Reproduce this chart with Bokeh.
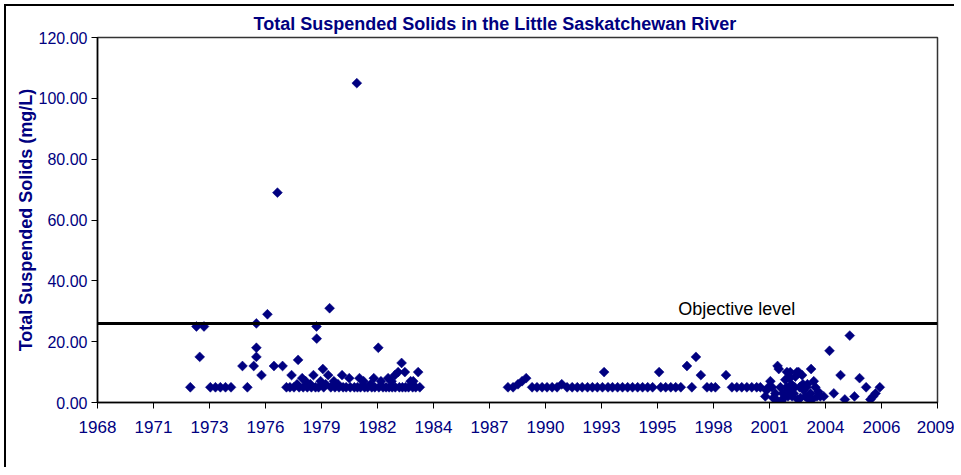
import numpy as np
import pandas as pd
from bokeh.plotting import figure
from bokeh.models import Range1d, FixedTicker, NumeralTickFormatter, Span, Label, ColumnDataSource
from bokeh.embed import file_html
from bokeh.resources import INLINE

# ---------------- data (decimal year, mg/L) ----------------
# 1972 - 1984 sampling
period1_year = [1972.98, 1973.28, 1973.44, 1973.65, 1973.96, 1974.21, 1974.45, 1974.70, 1974.97,
                1975.53, 1975.77, 1976.08, 1976.21, 1976.21, 1976.21, 1976.46, 1976.75, 1977.07,
                1977.24, 1977.49, 1977.68, 1977.85, 1977.93, 1978.05, 1978.20, 1978.25, 1978.30,
                1978.45, 1978.50, 1978.62, 1978.70, 1978.85, 1978.90, 1979.00, 1979.10, 1979.15,
                1979.16, 1979.25, 1979.35, 1979.46, 1979.50, 1979.60, 1979.72, 1979.79, 1979.85,
                1980.00, 1980.05, 1980.20, 1980.25, 1980.40, 1980.45, 1980.60, 1980.75, 1980.80,
                1981.00, 1981.12, 1981.15, 1981.25, 1981.30, 1981.45, 1981.50, 1981.65, 1981.80,
                1981.85, 1981.95, 1982.00, 1982.17, 1982.20, 1982.30, 1982.40, 1982.55, 1982.65,
                1982.70, 1982.82, 1982.85, 1982.98, 1983.00, 1983.14, 1983.20, 1983.31, 1983.35,
                1983.47, 1983.50, 1983.65, 1983.75, 1983.85, 1983.88, 1984.00, 1984.12, 1984.20]
period1_tss = [5, 25, 15, 25, 5, 5, 5, 5, 5,
               12, 5, 12, 26, 18, 15, 9, 29, 12,
               69, 12, 5, 5, 9, 5, 6, 14, 5,
               8, 5, 7, 5, 6, 5, 9, 5, 25,
               21, 5, 7, 11, 5, 6, 9, 31, 5,
               7, 5, 6, 5, 9, 5, 5, 8, 5,
               5, 105, 5, 8, 5, 7, 5, 5, 6,
               5, 8, 5, 18, 5, 7, 5, 5, 8,
               5, 7, 5, 9, 5, 10, 5, 13, 5,
               10, 5, 5, 7, 5, 7, 5, 10, 5]

# 1988 - 2001 sampling
period2_year = [1988.51, 1988.76, 1989.00, 1989.20, 1989.40, 1989.69, 1989.93, 1990.18, 1990.42,
                1990.67, 1990.91, 1991.14, 1991.40, 1991.65, 1991.90, 1992.14, 1992.40, 1992.64,
                1992.88, 1993.13, 1993.21, 1993.40, 1993.62, 1993.87, 1994.11, 1994.36, 1994.60,
                1994.85, 1995.09, 1995.34, 1995.58, 1995.90, 1995.98, 1996.22, 1996.47, 1996.71,
                1996.96, 1997.26, 1997.50, 1997.70, 1997.94, 1998.24, 1998.45, 1998.65, 1999.17,
                1999.46, 1999.70, 1999.94, 2000.19, 2000.43, 2000.67, 2000.85]
period2_tss = [5, 5, 6, 7, 8, 5, 5, 5, 5,
               5, 5, 6, 5, 5, 5, 5, 5, 5,
               5, 5, 10, 5, 5, 5, 5, 5, 5,
               5, 5, 5, 5, 10, 5, 5, 5, 5,
               5, 12, 5, 15, 9, 5, 5, 5, 9,
               5, 5, 5, 5, 5, 5, 5]

# 2001 - 2006 sampling
period3_year = [2001.09, 2001.15, 2001.24, 2001.34, 2001.42, 2001.48, 2001.58, 2001.62, 2001.69,
                2001.75, 2001.83, 2001.88, 2001.95, 2001.99, 2002.07, 2002.12, 2002.15, 2002.20,
                2002.23, 2002.28, 2002.31, 2002.36, 2002.40, 2002.48, 2002.53, 2002.56, 2002.64,
                2002.68, 2002.72, 2002.77, 2002.81, 2002.89, 2002.93, 2002.97, 2003.05, 2003.10,
                2003.15, 2003.22, 2003.30, 2003.33, 2003.38, 2003.46, 2003.54, 2003.62, 2003.69,
                2003.78, 2003.95, 2004.23, 2004.44, 2004.77, 2004.98, 2005.22, 2005.45, 2005.70,
                2006.02, 2006.23, 2006.36, 2006.48, 2006.69]
period3_tss = [2, 4, 5, 7, 5, 1.5, 3, 1, 12,
               11, 5, 0.5, 3, 1.5, 7.5, 5, 10, 2,
               4, 8, 10, 6, 2, 3, 5, 8.5, 10,
               1, 10, 5, 1.5, 9, 6, 4, 2, 5,
               6, 1, 3, 11, 1, 7, 5, 2, 3.5,
               2, 2, 17, 3, 9, 1, 22, 2, 8,
               5, 1, 2, 3, 5]

objective_level = 26.0

# x-axis ticks: Excel date serials every 1000 days, labelled by year
tick_serials = [25000, 26000, 27000, 28000, 29000, 30000, 31000, 32000,
                33000, 34000, 35000, 36000, 37000, 38000, 39000, 40000]
tick_labels = ["1968", "1971", "1973", "1976", "1979", "1982", "1984", "1987",
               "1990", "1993", "1995", "1998", "2001", "2004", "2006", "2009"]
y_ticks = [0, 20, 40, 60, 80, 100, 120]


def serial_to_year(s):
    d = pd.Timestamp("1899-12-30") + pd.Timedelta(days=s)
    start = pd.Timestamp(year=d.year, month=1, day=1)
    end = pd.Timestamp(year=d.year + 1, month=1, day=1)
    return d.year + (d - start) / (end - start)


tick_pos = [serial_to_year(s) for s in tick_serials]

year = period1_year + period2_year + period3_year
tss = period1_tss + period2_tss + period3_tss
src = ColumnDataSource(dict(year=year, tss=tss))

NAVY = "#000080"

p = figure(width=950, height=463, output_backend="svg", toolbar_location=None,
           x_range=Range1d(tick_pos[0], tick_pos[-1]), y_range=Range1d(0, 120),
           min_border_left=91, min_border_right=19, min_border_top=31, min_border_bottom=67)
p.styles = {"border-left": "2px solid black", "border-top": "2px solid black", "margin": "4px"}

p.title.text = "Total Suspended Solids in the Little Saskatchewan River"
p.title.align = "left"
p.title.offset = 156
p.title.text_font = "Liberation Sans"
p.title.text_font_size = "18px"
p.title.text_font_style = "bold"
p.title.text_color = NAVY
p.title.standoff = 8

p.xgrid.visible = False
p.ygrid.visible = False
p.outline_line_color = "#333333"
p.outline_line_width = 1.5
p.background_fill_color = "white"
p.border_fill_color = "white"

p.xaxis.ticker = FixedTicker(ticks=tick_pos)
p.xaxis.major_label_overrides = {t: lab for t, lab in zip(tick_pos, tick_labels)}
p.yaxis.ticker = FixedTicker(ticks=y_ticks)
p.yaxis.formatter = NumeralTickFormatter(format="0.00")

for ax in (p.xaxis[0], p.yaxis[0]):
    ax.axis_line_color = "black"
    ax.axis_line_width = 1.5
    ax.major_tick_line_color = "black"
    ax.major_tick_line_width = 1
    ax.major_tick_in = 0
    ax.major_tick_out = 6
    ax.minor_tick_line_color = None
    ax.major_label_text_font = "Liberation Sans"
    ax.major_label_text_color = NAVY

p.xaxis.major_label_text_font_size = "17px"
p.xaxis.major_label_standoff = 12
p.yaxis.major_label_text_font_size = "16px"
p.yaxis.major_label_standoff = 4

p.yaxis.axis_label = "Total Suspended Solids (mg/L)"
p.yaxis.axis_label_text_font = "Liberation Sans"
p.yaxis.axis_label_text_font_size = "18px"
p.yaxis.axis_label_text_font_style = "bold"
p.yaxis.axis_label_text_color = NAVY
p.yaxis.axis_label_standoff = 0

p.add_layout(Span(location=objective_level, dimension="width", line_color="black", line_width=3))
p.add_layout(Label(x=1996.83, y=objective_level, y_offset=14, text="Objective level",
                   text_font="Liberation Sans", text_font_size="18px", text_color="black",
                   text_baseline="alphabetic"))

p.scatter("year", "tss", source=src, marker="square", angle=np.pi / 4, size=7,
          fill_color=NAVY, line_color=NAVY, line_width=0.5)

open("out.html", "w").write(file_html(p, INLINE))
